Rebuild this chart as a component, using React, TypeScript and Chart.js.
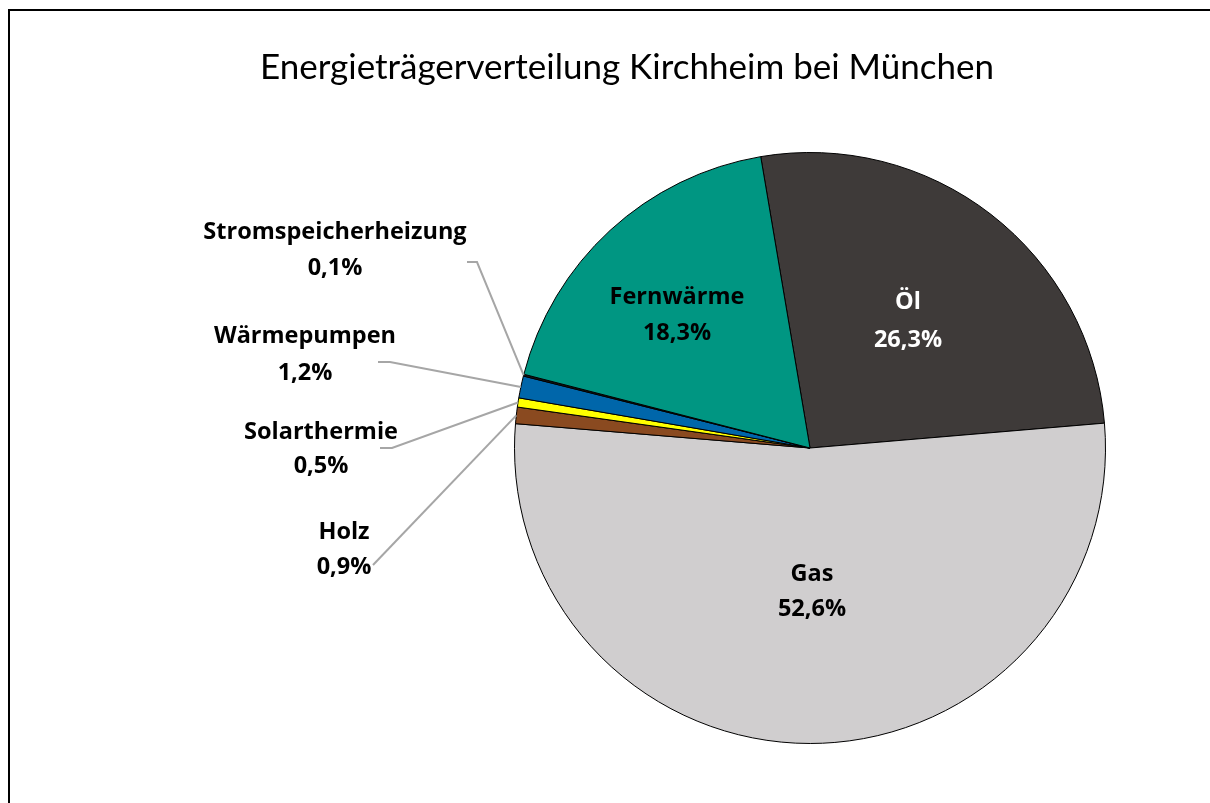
import { useEffect, useRef } from 'react';
import { Chart, registerables } from 'chart.js';

Chart.register(...registerables);

const chartTitle = 'Energieträgerverteilung Kirchheim bei München';
const categories = ['Öl', 'Gas', 'Holz', 'Solarthermie', 'Wärmepumpen', 'Stromspeicherheizung', 'Fernwärme'];
const shares = [26.3, 52.6, 0.9, 0.5, 1.2, 0.1, 18.3];
const sliceColors = ['#3E3A39', '#D0CECF', '#8A4A20', '#FFFF00', '#0066AA', '#1A1A1A', '#009682'];

const fmt = (v: number) => v.toFixed(1).replace('.', ',') + '%';

// label placement (layout only)
const labelLayout: { x: number; y1: number; y2: number; color: string; leader?: number[][] }[] = [
  { x: 908, y1: 302, y2: 340, color: '#FFFFFF' },
  { x: 812, y1: 574, y2: 609, color: '#000000' },
  { x: 344, y1: 532, y2: 567, color: '#000000', leader: [[373, 565]] },
  { x: 321, y1: 432, y2: 466, color: '#000000', leader: [[380, 448], [392, 448]] },
  { x: 305, y1: 336, y2: 373, color: '#000000', leader: [[378, 362], [390, 362]] },
  { x: 335, y1: 232, y2: 268, color: '#000000', leader: [[467, 262], [477, 262]] },
  { x: 677, y1: 297, y2: 333, color: '#000000' },
];

const decorPlugin = {
  id: 'decor',
  beforeDraw(chart: any) {
    const ctx = chart.ctx as CanvasRenderingContext2D;
    ctx.save();
    ctx.fillStyle = '#FFFFFF';
    ctx.fillRect(0, 0, chart.width, chart.height);
    ctx.strokeStyle = '#000000';
    ctx.lineWidth = 2;
    ctx.strokeRect(9, 10, chart.width + 20, chart.height + 20);
    ctx.fillStyle = '#000000';
    ctx.font = '35px Lato';
    ctx.textAlign = 'center';
    ctx.textBaseline = 'middle';
    ctx.fillText(chartTitle, 627, 68);
    ctx.restore();
  },
  afterDraw(chart: any) {
    const ctx = chart.ctx as CanvasRenderingContext2D;
    const meta = chart.getDatasetMeta(0);
    ctx.save();
    meta.data.forEach((arc: any, i: number) => {
      const lay = labelLayout[i];
      if (!lay) return;
      const p = arc.getProps(['x', 'y', 'startAngle', 'endAngle', 'outerRadius'], true);
      if (lay.leader) {
        const mid = (p.startAngle + p.endAngle) / 2;
        const ex = p.x + Math.cos(mid) * p.outerRadius;
        const ey = p.y + Math.sin(mid) * p.outerRadius;
        ctx.strokeStyle = '#A6A6A6';
        ctx.lineWidth = 2;
        ctx.beginPath();
        lay.leader.forEach((pt, k) => (k === 0 ? ctx.moveTo(pt[0], pt[1]) : ctx.lineTo(pt[0], pt[1])));
        ctx.lineTo(ex, ey);
        ctx.stroke();
      }
      ctx.fillStyle = lay.color;
      ctx.font = 'bold 23.5px "Open Sans"';
      ctx.textAlign = 'center';
      ctx.textBaseline = 'middle';
      ctx.fillText(categories[i], lay.x, lay.y1);
      ctx.fillText(fmt(shares[i]), lay.x, lay.y2);
    });
    ctx.restore();
  },
};

export default function App() {
  const ref = useRef<HTMLCanvasElement>(null);
  useEffect(() => {
    if (!ref.current) return;
    const chart = new Chart(ref.current, {
      type: 'pie',
      data: {
        labels: categories,
        datasets: [
          {
            data: shares,
            backgroundColor: sliceColors,
            borderColor: '#000000',
            borderWidth: 1,
          },
        ],
      },
      options: {
        responsive: false,
        animation: false,
        rotation: -9.6,
        layout: { padding: { left: 514, right: 104, top: 152, bottom: 59 } },
        plugins: {
          legend: { display: false },
          tooltip: { enabled: false },
          title: { display: false },
        },
      },
      plugins: [decorPlugin],
    });
    return () => chart.destroy();
  }, []);
  return (
    <div style={{ position: 'absolute', left: 0, top: 0, width: 1210, height: 803, overflow: 'hidden' }}>
      <canvas ref={ref} width={1210} height={803} style={{ display: 'block' }} />
    </div>
  );
}
